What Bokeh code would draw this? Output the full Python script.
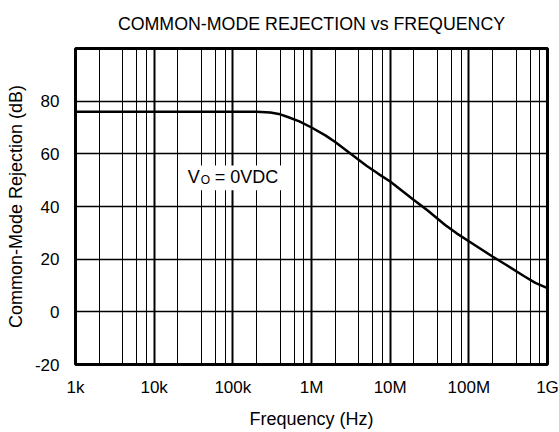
from bokeh.plotting import figure
from bokeh.models import Range1d, FixedTicker, Label, BoxAnnotation
from bokeh.embed import file_html
from bokeh.resources import INLINE

# ---- data ----
freq_hz = [1e3, 1e4, 1e5, 2e5, 3e5, 4e5, 5e5, 7e5, 1e6, 1.5e6, 2e6, 3e6,
           5e6, 7e6, 1e7, 2e7, 3e7, 5e7, 7e7, 1e8, 2e8, 3e8, 5e8, 7e8, 1e9]
cmr_db = [76, 76, 76, 76, 75.7, 75, 74, 72.3, 70, 67, 64.5, 60.5,
          55.5, 52.5, 49.5, 42.5, 38.5, 33, 29.8, 26.8, 21, 17.8, 13.6, 11, 9]

x_ticks = [1000, 10000, 100000, 1000000, 10000000, 100000000, 1000000000]
x_tick_labels = ["1k", "10k", "100k", "1M", "10M", "100M", "1G"]
y_ticks = [-20, 0, 20, 40, 60, 80]
y_tick_labels = ["-20", "0", "20", "40", "60", "80"]
y_grid_lines = [-20, 0, 20, 40, 60, 80, 100]
minor_multipliers = [2, 4, 6, 8]

title_text = "COMMON-MODE REJECTION vs FREQUENCY"
x_label = "Frequency (Hz)"
y_label = "Common-Mode Rejection (dB)"

# annotation "V_O = 0VDC" (anchor in data space) and its white backing box
note_x, note_y = 26700, 51.2
box_left, box_right, box_bottom, box_top = 22900, 470000, 46.2, 55.6

FONT = "Liberation Sans"

p = figure(width=559, height=432, x_axis_type="log",
           x_range=Range1d(1e3, 1e9), y_range=Range1d(-20, 100),
           output_backend="svg", toolbar_location=None,
           title=title_text, x_axis_label=x_label, y_axis_label=y_label,
           min_border_left=75, min_border_right=12, min_border_top=45,
           min_border_bottom=68)

p.background_fill_color = "white"
p.border_fill_color = "white"
p.outline_line_color = "black"
p.outline_line_width = 3
p.outline_line_alpha = 1.0

# title
p.title.align = "center"
p.title.vertical_align = "top"
p.title.text_font = FONT
p.title.text_font_size = "17.8px"
p.title.text_font_style = "normal"
p.title.text_color = "black"
p.title.standoff = 26

# axes
p.xaxis.ticker = FixedTicker(ticks=x_ticks, minor_ticks=[])
p.xaxis.major_label_overrides = {t: l for t, l in zip(x_ticks, x_tick_labels)}
p.yaxis.ticker = FixedTicker(ticks=y_ticks, minor_ticks=[])
p.yaxis.major_label_overrides = {t: l for t, l in zip(y_ticks, y_tick_labels)}
for ax in p.axis:
    ax.axis_line_color = None
    ax.major_tick_out = 0
    ax.major_tick_in = 0
    ax.minor_tick_out = 0
    ax.minor_tick_in = 0
    ax.major_label_text_font = FONT
    ax.major_label_text_font_size = "17px"
    ax.major_label_text_color = "black"
    ax.axis_label_text_font = FONT
    ax.axis_label_text_font_size = "18px"
    ax.axis_label_text_font_style = "normal"
    ax.axis_label_text_color = "black"
p.xaxis.major_label_standoff = 13
p.xaxis.axis_label_standoff = 9
p.yaxis.major_label_standoff = 16
p.yaxis.axis_label_standoff = 6

# grids
x_minor = [m * d for d in x_ticks[:-1] for m in minor_multipliers]
p.xgrid.ticker = FixedTicker(ticks=x_ticks, minor_ticks=x_minor)
p.xgrid.grid_line_color = "black"
p.xgrid.grid_line_width = 2
p.xgrid.grid_line_alpha = 1.0
p.xgrid.minor_grid_line_color = "black"
p.xgrid.minor_grid_line_width = 1
p.xgrid.minor_grid_line_alpha = 1.0
p.ygrid.ticker = FixedTicker(ticks=y_grid_lines, minor_ticks=[])
p.ygrid.grid_line_color = "black"
p.ygrid.grid_line_width = 1.3
p.ygrid.grid_line_alpha = 1.0

# curve
p.line(freq_hz, cmr_db, line_color="black", line_width=2.5)

# annotation
p.add_layout(BoxAnnotation(left=box_left, right=box_right, bottom=box_bottom,
                           top=box_top, fill_color="white", fill_alpha=1.0,
                           line_color=None))
p.add_layout(Label(x=note_x, y=note_y, text="V", text_font=FONT,
                   text_font_size="18px", text_color="black",
                   text_baseline="alphabetic"))
p.add_layout(Label(x=note_x, y=note_y, x_offset=13, y_offset=-3.3, text="O",
                   text_font=FONT, text_font_size="12px", text_color="black",
                   text_baseline="alphabetic"))
p.add_layout(Label(x=note_x, y=note_y, x_offset=27, text="= 0VDC",
                   text_font=FONT, text_font_size="18px", text_color="black",
                   text_baseline="alphabetic"))

open("out.html", "w").write(file_html(p, INLINE))
